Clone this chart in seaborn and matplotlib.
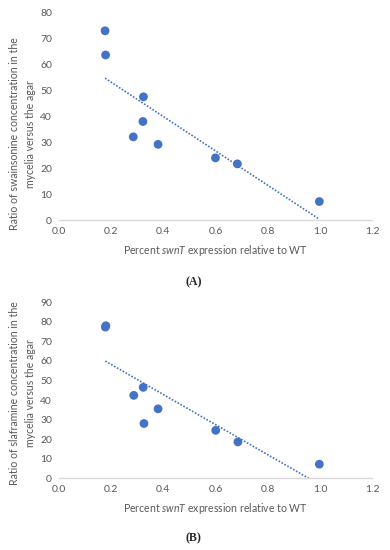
import matplotlib
matplotlib.use("Agg")
import matplotlib.pyplot as plt
import seaborn as sns
import pandas as pd

# panel A: swainsonine
swn_a = [0.177, 0.179, 0.324, 0.322, 0.285, 0.380, 0.600, 0.684, 0.998]
ratio_a = [72.8, 63.5, 47.4, 37.9, 32.0, 29.1, 23.9, 21.6, 7.1]
# panel B: slaframine
swn_b = [0.178, 0.180, 0.287, 0.323, 0.326, 0.380, 0.601, 0.686, 0.998]
ratio_b = [77.3, 78.0, 42.4, 46.5, 28.0, 35.5, 24.5, 18.6, 7.2]

xticks = [0.0, 0.2, 0.4, 0.6, 0.8, 1.0, 1.2]
yticks_a = list(range(0, 81, 10))
yticks_b = list(range(0, 91, 10))

ylabel_a = "Ratio of swainsonine concentration in the\nmycelia versus the agar"
ylabel_b = "Ratio of slaframine concentration in the\nmycelia versus the agar"
xlabel = "Percent $\\it{swnT}$ expression relative to WT"

sns.set_style("white")
plt.rcParams['font.family'] = ['Lato', 'DejaVu Sans']
plt.rcParams['mathtext.fontset'] = 'custom'
plt.rcParams['mathtext.it'] = 'Lato:italic'
plt.rcParams['mathtext.rm'] = 'Lato'

blue = "#4472C4"
grey = "#595959"

fig = plt.figure(figsize=(3.9, 5.5), dpi=100)
ax_a = fig.add_axes([0.151, 0.600, 0.803, 0.378])
ax_b = fig.add_axes([0.151, 0.1304, 0.803, 0.320])


def panel(ax, x, y, yticks, ylabel, label_y):
    df = pd.DataFrame({"x": x, "y": y})
    sns.regplot(data=df, x="x", y="y", ax=ax, scatter=False, ci=None, truncate=True,
                line_kws={"color": blue, "lw": 1.2, "linestyle": (0, (1, 1))})
    sns.scatterplot(data=df, x="x", y="y", ax=ax, color=blue, s=40, edgecolor="none", zorder=3)
    ax.set_xlim(0, 1.2)
    ax.set_ylim(0, yticks[-1])
    ax.set_xticks(xticks)
    ax.set_xticklabels([f"{t:.1f}" for t in xticks])
    ax.set_yticks(yticks)
    for s in ["top", "right", "left"]:
        ax.spines[s].set_visible(False)
    ax.spines["bottom"].set_color("#D9D9D9")
    ax.spines["bottom"].set_linewidth(1.0)
    ax.tick_params(length=0, labelsize=7.5, colors=grey, pad=5)
    ax.set_xlabel(xlabel, fontsize=7.6, color=grey, labelpad=5)
    ax.set_ylabel(ylabel, fontsize=7.6, color=grey, labelpad=3, linespacing=1.55, y=label_y)
    ax.patch.set_alpha(0)


panel(ax_a, swn_a, ratio_a, yticks_a, ylabel_a, 0.415)
panel(ax_b, swn_b, ratio_b, yticks_b, ylabel_b, 0.485)

fig.text(0.497, 1 - 282 / 550, "(A)", ha="center", va="center", fontsize=8.5,
         fontweight="bold", family="Liberation Serif")
fig.text(0.497, 1 - 538 / 550, "(B)", ha="center", va="center", fontsize=8.5,
         fontweight="bold", family="Liberation Serif")

fig.savefig("out.png", dpi=100)
